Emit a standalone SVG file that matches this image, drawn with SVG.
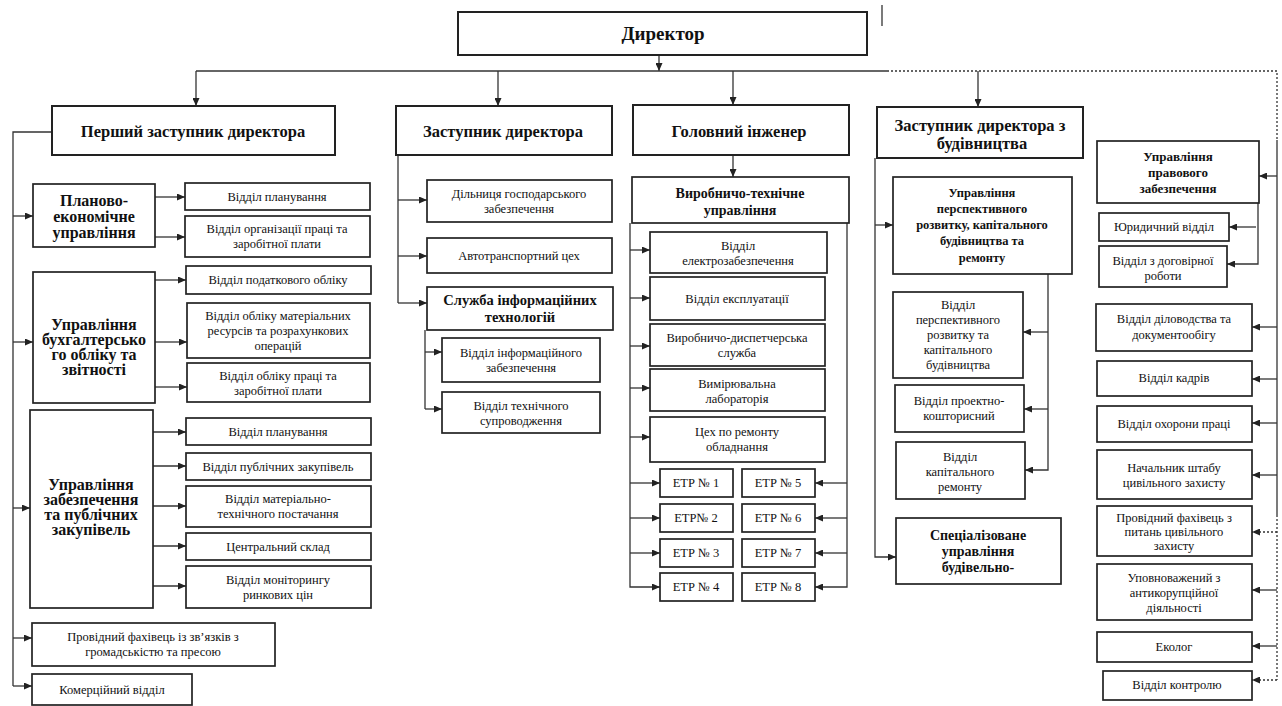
<svg xmlns="http://www.w3.org/2000/svg" width="1282" height="706" viewBox="0 0 1282 706">
<style>
.b{fill:#fff;stroke:#222;stroke-width:1.7}
.bh{fill:#fff;stroke:#222;stroke-width:2}
.t{font-family:"Liberation Serif","Times New Roman",serif;font-size:12.5px;fill:#111;text-anchor:middle}
.h{font-size:16.5px;font-weight:bold}
.big{font-size:19px;font-weight:bold}
.s16{font-size:16px;font-weight:bold}
.s{font-size:14px;font-weight:bold}
.s145{font-size:14.5px;font-weight:bold}
.s13{font-size:13px;font-weight:bold}
.s125{font-size:12.5px;font-weight:bold}
.c{fill:none;stroke:#333;stroke-width:1.3}
.d{stroke-dasharray:2 2}
</style>
<defs>
<marker id="ar" viewBox="0 0 8 7" refX="8" refY="3.5" markerWidth="8" markerHeight="7" markerUnits="userSpaceOnUse" orient="auto">
<path d="M0,0 L8,3.5 L0,7 z" fill="#222"/>
</marker>
</defs>
<rect width="1282" height="706" fill="#fff"/>

<g id="connectors" class="c">
<path d="M659,55 V71" marker-end="url(#ar)"/>
<path d="M196,71 H887"/>
<path class="d" d="M887,71 H1277 V140"/>
<path d="M1277,140 V515"/>
<path class="d" d="M1277,515 V680"/>
<path d="M882,5 V26"/>
<path d="M196,71 V106" marker-end="url(#ar)"/>
<path d="M498,71 V106" marker-end="url(#ar)"/>
<path d="M733,71 V105" marker-end="url(#ar)"/>
<path d="M978,71 V107" marker-end="url(#ar)"/>

<path d="M52,132 H13 V686"/>
<path d="M13,216 H33" marker-end="url(#ar)"/>
<path d="M13,342 H33" marker-end="url(#ar)"/>
<path d="M13,508 H30" marker-end="url(#ar)"/>
<path d="M13,638 H32" marker-end="url(#ar)"/>
<path d="M13,686 H32" marker-end="url(#ar)"/>
<path d="M155,197 H185" marker-end="url(#ar)"/>
<path d="M155,237 H185" marker-end="url(#ar)"/>
<path d="M155,280 H186" marker-end="url(#ar)"/>
<path d="M155,342 H187" marker-end="url(#ar)"/>
<path d="M155,387 H187" marker-end="url(#ar)"/>
<path d="M153,432 H186" marker-end="url(#ar)"/>
<path d="M153,466 H186" marker-end="url(#ar)"/>
<path d="M153,506 H186" marker-end="url(#ar)"/>
<path d="M153,546 H186" marker-end="url(#ar)"/>
<path d="M153,586 H186" marker-end="url(#ar)"/>

<path d="M398,155 V303"/>
<path d="M398,200 H427" marker-end="url(#ar)"/>
<path d="M398,256 H427" marker-end="url(#ar)"/>
<path d="M398,303 H427" marker-end="url(#ar)"/>
<path d="M425,330 V409"/>
<path d="M425,352 H442" marker-end="url(#ar)"/>
<path d="M425,409 H442" marker-end="url(#ar)"/>

<path d="M733,155 V177" marker-end="url(#ar)"/>
<path d="M630,223 V587 H660" marker-end="url(#ar)"/>
<path d="M630,250 H650" marker-end="url(#ar)"/>
<path d="M630,298 H650" marker-end="url(#ar)"/>
<path d="M630,346 H650" marker-end="url(#ar)"/>
<path d="M630,388 H650" marker-end="url(#ar)"/>
<path d="M630,437 H650" marker-end="url(#ar)"/>
<path d="M630,483 H660" marker-end="url(#ar)"/>
<path d="M630,518 H660" marker-end="url(#ar)"/>
<path d="M630,553 H660" marker-end="url(#ar)"/>
<path d="M847,223 V587 H815" marker-end="url(#ar)"/>
<path d="M847,483 H815" marker-end="url(#ar)"/>
<path d="M847,518 H815" marker-end="url(#ar)"/>
<path d="M847,553 H815" marker-end="url(#ar)"/>

<path d="M875,158 V557 H896" marker-end="url(#ar)"/>
<path d="M875,225 H893" marker-end="url(#ar)"/>
<path d="M1048,274 V470 H1025" marker-end="url(#ar)"/>
<path d="M1048,332 H1023" marker-end="url(#ar)"/>
<path d="M1048,409 H1024" marker-end="url(#ar)"/>

<path d="M1277,176 H1259" marker-end="url(#ar)"/>
<path d="M1258,203 V264 H1227" marker-end="url(#ar)"/>
<path d="M1256,227 H1229" marker-end="url(#ar)"/>
<path d="M1277,327 H1252" marker-end="url(#ar)"/>
<path d="M1277,379 H1252" marker-end="url(#ar)"/>
<path d="M1277,423 H1252" marker-end="url(#ar)"/>
<path d="M1277,475 H1252" marker-end="url(#ar)"/>
<path class="d" d="M1277,532 H1252" marker-end="url(#ar)"/>
<path d="M1277,590 H1252" marker-end="url(#ar)"/>
<path d="M1277,646 H1252" marker-end="url(#ar)"/>
<path class="d" d="M1277,680 H1252" marker-end="url(#ar)"/>
</g>

<g id="director"><rect class="bh" x="458" y="12" width="409" height="43"/><text class="t big" x="663" y="40">Директор</text></g>

<g id="first_deputy"><rect class="bh" x="52" y="106" width="283" height="49"/><text class="t h" x="193" y="137">Перший заступник директора</text></g>
<g id="deputy"><rect class="bh" x="396" y="106" width="216" height="49"/><text class="t h" x="503" y="137">Заступник директора</text></g>
<g id="chief_engineer"><rect class="bh" x="633" y="105" width="216" height="50"/><text class="t h" x="739" y="137">Головний інженер</text></g>
<g id="deputy_construction"><rect class="bh" x="877" y="107" width="206" height="51"/><text class="t h"><tspan x="980" y="131">Заступник директора з</tspan><tspan x="982" y="149">будівництва</tspan></text></g>

<g id="plan_econ"><rect class="b" x="33" y="184" width="122" height="63"/><text class="t s16"><tspan x="94" y="206">Планово-</tspan><tspan x="94" y="222">економічне</tspan><tspan x="94" y="238">управління</tspan></text></g>
<g id="plan_dept1"><rect class="b" x="185" y="183" width="185" height="27"/><text class="t" x="277" y="201">Відділ планування</text></g>
<g id="labor_org"><rect class="b" x="185" y="216" width="185" height="41"/><text class="t"><tspan x="277" y="233">Відділ організації праці та</tspan><tspan x="277" y="248">заробітної плати</tspan></text></g>

<g id="accounting"><rect class="b" x="33" y="272" width="122" height="131"/><text class="t s16"><tspan x="94" y="330">Управління</tspan><tspan x="94" y="345">бухгалтерсько</tspan><tspan x="94" y="360">го обліку та</tspan><tspan x="94" y="375">звітності</tspan></text></g>
<g id="tax"><rect class="b" x="186" y="266" width="185" height="28"/><text class="t" x="278" y="284">Відділ податкового обліку</text></g>
<g id="material_acc"><rect class="b" x="187" y="303" width="183" height="55"/><text class="t"><tspan x="278" y="320">Відділ обліку матеріальних</tspan><tspan x="278" y="335">ресурсів та розрахункових</tspan><tspan x="278" y="350">операцій</tspan></text></g>
<g id="labor_acc"><rect class="b" x="187" y="363" width="183" height="39"/><text class="t"><tspan x="278" y="380">Відділ обліку праці та</tspan><tspan x="278" y="395">заробітної плати</tspan></text></g>

<g id="procurement"><rect class="b" x="30" y="410" width="123" height="198"/><text class="t s16"><tspan x="91" y="490">Управління</tspan><tspan x="91" y="505">забезпечення</tspan><tspan x="91" y="520">та публічних</tspan><tspan x="91" y="535">закупівель</tspan></text></g>
<g id="plan_dept2"><rect class="b" x="186" y="418" width="185" height="27"/><text class="t" x="278" y="436">Відділ планування</text></g>
<g id="public_proc"><rect class="b" x="186" y="453" width="185" height="27"/><text class="t" x="278" y="471">Відділ публічних закупівель</text></g>
<g id="supply"><rect class="b" x="186" y="486" width="185" height="41"/><text class="t"><tspan x="278" y="503">Відділ матеріально-</tspan><tspan x="278" y="518">технічного постачання</tspan></text></g>
<g id="warehouse"><rect class="b" x="186" y="533" width="185" height="27"/><text class="t" x="278" y="551">Центральний склад</text></g>
<g id="price_monitor"><rect class="b" x="186" y="566" width="185" height="42"/><text class="t"><tspan x="278" y="584">Відділ  моніторингу</tspan><tspan x="278" y="599">ринкових цін</tspan></text></g>
<g id="pr_specialist"><rect class="b" x="32" y="623" width="243" height="43"/><text class="t"><tspan x="153" y="641">Провідний фахівець із зв’язків з</tspan><tspan x="153" y="656">громадськістю та пресою</tspan></text></g>
<g id="commercial"><rect class="b" x="32" y="674" width="160" height="31"/><text class="t" x="112" y="694">Комерційний відділ</text></g>

<g id="household"><rect class="b" x="427" y="180" width="185" height="42"/><text class="t"><tspan x="519" y="198">Дільниця господарського</tspan><tspan x="519" y="213">забезпечення</tspan></text></g>
<g id="transport"><rect class="b" x="427" y="238" width="185" height="35"/><text class="t" x="519" y="260">Автотранспортний цех</text></g>
<g id="it_service"><rect class="b" x="427" y="287" width="186" height="43"/><text class="t s145"><tspan x="520" y="305">Служба інформаційних</tspan><tspan x="520" y="322">технологій</tspan></text></g>
<g id="it_support"><rect class="b" x="442" y="338" width="158" height="44"/><text class="t"><tspan x="521" y="357">Відділ інформаційного</tspan><tspan x="521" y="372">забезпечення</tspan></text></g>
<g id="tech_support"><rect class="b" x="442" y="392" width="158" height="41"/><text class="t"><tspan x="521" y="410">Відділ технічного</tspan><tspan x="521" y="425">супроводження</tspan></text></g>

<g id="production_tech"><rect class="b" x="632" y="177" width="217" height="46"/><text class="t s"><tspan x="740" y="198">Виробничо-технічне</tspan><tspan x="740" y="215">управління</tspan></text></g>
<g id="power_supply"><rect class="b" x="650" y="232" width="177" height="41"/><text class="t"><tspan x="738" y="250">Відділ</tspan><tspan x="738" y="265">електрозабезпечення</tspan></text></g>
<g id="operation"><rect class="b" x="650" y="277" width="175" height="43"/><text class="t" x="737" y="303">Відділ експлуатації</text></g>
<g id="dispatch"><rect class="b" x="650" y="324" width="175" height="42"/><text class="t"><tspan x="737" y="342">Виробничо-диспетчерська</tspan><tspan x="737" y="357">служба</tspan></text></g>
<g id="lab"><rect class="b" x="650" y="369" width="175" height="42"/><text class="t"><tspan x="737" y="388">Вимірювальна</tspan><tspan x="737" y="403">лабораторія</tspan></text></g>
<g id="repair"><rect class="b" x="650" y="417" width="175" height="45"/><text class="t"><tspan x="737" y="436">Цех по ремонту</tspan><tspan x="737" y="451">обладнання</tspan></text></g>
<g id="etr1"><rect class="b" x="660" y="469" width="73" height="28"/><text class="t" x="696" y="487">ЕТР № 1</text></g>
<g id="etr2"><rect class="b" x="660" y="504" width="73" height="28"/><text class="t" x="696" y="522">ЕТР№ 2</text></g>
<g id="etr3"><rect class="b" x="660" y="539" width="73" height="28"/><text class="t" x="696" y="557">ЕТР № 3</text></g>
<g id="etr4"><rect class="b" x="660" y="573" width="73" height="28"/><text class="t" x="696" y="591">ЕТР № 4</text></g>
<g id="etr5"><rect class="b" x="742" y="469" width="73" height="28"/><text class="t" x="778" y="487">ЕТР № 5</text></g>
<g id="etr6"><rect class="b" x="742" y="504" width="73" height="28"/><text class="t" x="778" y="522">ЕТР № 6</text></g>
<g id="etr7"><rect class="b" x="742" y="539" width="73" height="28"/><text class="t" x="778" y="557">ЕТР № 7</text></g>
<g id="etr8"><rect class="b" x="742" y="573" width="73" height="28"/><text class="t" x="778" y="591">ЕТР № 8</text></g>

<g id="capital_mgmt"><rect class="b" x="893" y="177" width="179" height="97"/><text class="t s125"><tspan x="982" y="197">Управління</tspan><tspan x="982" y="213">перспективного</tspan><tspan x="982" y="229">розвитку, капітального</tspan><tspan x="982" y="245">будівництва та</tspan><tspan x="982" y="262">ремонту</tspan></text></g>
<g id="perspective"><rect class="b" x="893" y="292" width="130" height="86"/><text class="t"><tspan x="958" y="309">Відділ</tspan><tspan x="958" y="324">перспективного</tspan><tspan x="958" y="339">розвитку та</tspan><tspan x="958" y="354">капітального</tspan><tspan x="958" y="369">будівництва</tspan></text></g>
<g id="estimate"><rect class="b" x="895" y="385" width="129" height="47"/><text class="t"><tspan x="959" y="405">Відділ проектно-</tspan><tspan x="959" y="420">кошторисний</tspan></text></g>
<g id="cap_repair"><rect class="b" x="896" y="442" width="129" height="57"/><text class="t"><tspan x="960" y="461">Відділ</tspan><tspan x="960" y="476">капітального</tspan><tspan x="960" y="491">ремонту</tspan></text></g>
<g id="special_mgmt"><rect class="b" x="896" y="518" width="165" height="66"/><text class="t s"><tspan x="978" y="540">Спеціалізоване</tspan><tspan x="978" y="556">управління</tspan><tspan x="978" y="572">будівельно-</tspan></text></g>

<g id="legal_mgmt"><rect class="b" x="1097" y="141" width="162" height="62"/><text class="t s13"><tspan x="1178" y="161">Управління</tspan><tspan x="1178" y="177">правового</tspan><tspan x="1178" y="193">забезпечення</tspan></text></g>
<g id="legal_dept"><rect class="b" x="1099" y="213" width="130" height="28"/><text class="t" x="1164" y="231">Юридичний відділ</text></g>
<g id="contracts"><rect class="b" x="1099" y="246" width="128" height="41"/><text class="t"><tspan x="1163" y="265">Відділ з договірної</tspan><tspan x="1163" y="280">роботи</tspan></text></g>
<g id="records"><rect class="b" x="1096" y="304" width="156" height="47"/><text class="t"><tspan x="1174" y="323">Відділ діловодства та</tspan><tspan x="1174" y="339">документообігу</tspan></text></g>
<g id="hr"><rect class="b" x="1097" y="361" width="155" height="35"/><text class="t" x="1174" y="382">Відділ кадрів</text></g>
<g id="safety"><rect class="b" x="1097" y="406" width="155" height="36"/><text class="t" x="1174" y="428">Відділ охорони праці</text></g>
<g id="civil_chief"><rect class="b" x="1097" y="450" width="155" height="49"/><text class="t"><tspan x="1174" y="472">Начальник штабу</tspan><tspan x="1174" y="487">цивільного захисту</tspan></text></g>
<g id="civil_specialist"><rect class="b" x="1097" y="506" width="155" height="50"/><text class="t"><tspan x="1174" y="522">Провідний фахівець з</tspan><tspan x="1174" y="536">питань цивільного</tspan><tspan x="1174" y="550">захисту</tspan></text></g>
<g id="anticorruption"><rect class="b" x="1097" y="564" width="155" height="56"/><text class="t"><tspan x="1174" y="582">Уповноважений з</tspan><tspan x="1174" y="597">антикорупційної</tspan><tspan x="1174" y="612">діяльності</tspan></text></g>
<g id="ecologist"><rect class="b" x="1097" y="632" width="155" height="30"/><text class="t" x="1174" y="651">Еколог</text></g>
<g id="control"><rect class="b" x="1103" y="671" width="149" height="29"/><text class="t" x="1177" y="689">Відділ контролю</text></g>
</svg>
